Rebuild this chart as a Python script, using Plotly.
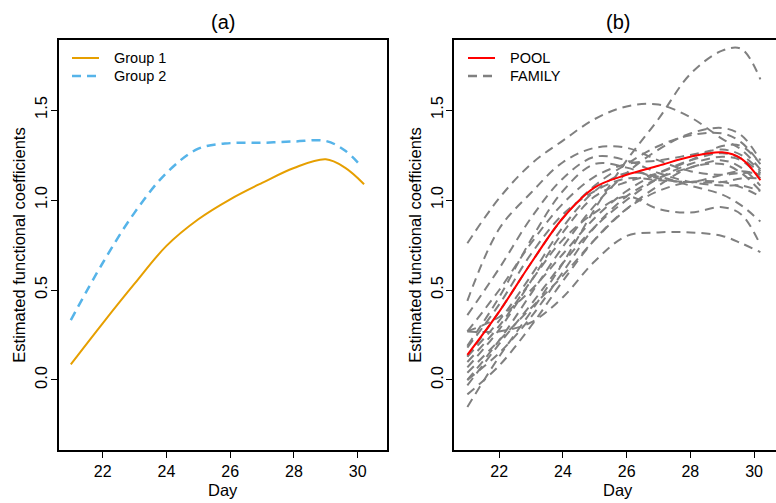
import plotly.graph_objects as go

# ---- panel (a): group-wise estimated coefficient functions ----
day_a = [21, 22, 23, 24, 25, 26, 27, 28, 29, 29.6, 30.2]
group1 = [0.087, 0.315, 0.535, 0.745, 0.893, 1.004, 1.095, 1.178, 1.226, 1.18, 1.088]
day_a2 = [21, 22, 23, 24, 25, 26, 27, 28, 29, 29.6, 30.1]
group2 = [0.333, 0.65, 0.93, 1.15, 1.285, 1.316, 1.318, 1.325, 1.328, 1.275, 1.19]

# ---- panel (b): pooled fit and family-specific fits ----
day_b = [21, 22, 23, 24, 25, 26, 27, 28, 29, 29.6, 30.2]
pool = [0.14, 0.38, 0.65, 0.90, 1.07, 1.14, 1.19, 1.24, 1.265, 1.23, 1.11]
families = [
    [-0.15, 0.13, 0.38, 0.65, 0.95, 1.22, 1.45, 1.70, 1.83, 1.84, 1.67],
    [0.76, 1.01, 1.20, 1.33, 1.45, 1.52, 1.53, 1.46, 1.34, 1.28, 1.17],
    [0.44, 0.84, 1.04, 1.21, 1.29, 1.29, 1.22, 1.16, 1.14, 1.15, 1.15],
    [0.36, 0.62, 0.90, 1.12, 1.24, 1.22, 1.15, 1.10, 1.08, 1.08, 1.05],
    [0.27, 0.27, 0.32, 0.46, 0.66, 0.80, 0.82, 0.82, 0.80, 0.76, 0.71],
    [0.10, 0.30, 0.55, 0.78, 0.93, 1.02, 0.95, 0.93, 0.96, 0.92, 0.75],
    [0.18, 0.42, 0.70, 0.92, 1.05, 1.12, 1.11, 1.10, 1.10, 1.12, 1.12],
    [0.00, 0.22, 0.48, 0.74, 0.97, 1.15, 1.28, 1.37, 1.40, 1.36, 1.22],
    [0.13, 0.38, 0.65, 0.90, 1.08, 1.20, 1.30, 1.36, 1.37, 1.32, 1.20],
    [0.27, 0.50, 0.76, 0.98, 1.13, 1.20, 1.22, 1.25, 1.28, 1.25, 1.16],
    [0.07, 0.28, 0.55, 0.82, 1.02, 1.10, 1.15, 1.22, 1.30, 1.30, 1.20],
    [-0.03, 0.20, 0.42, 0.65, 0.85, 1.00, 1.12, 1.20, 1.24, 1.22, 1.12],
    [-0.08, 0.08, 0.30, 0.55, 0.78, 0.95, 1.05, 1.10, 1.10, 1.07, 1.02],
    [0.19, 0.46, 0.78, 1.05, 1.20, 1.18, 1.12, 1.10, 1.14, 1.16, 1.14],
    [0.04, 0.22, 0.40, 0.58, 0.78, 0.95, 1.08, 1.18, 1.20, 1.15, 1.05],
    [0.13, 0.33, 0.58, 0.85, 1.05, 1.15, 1.13, 1.08, 1.03, 0.97, 0.88],
    [0.27, 0.35, 0.50, 0.70, 0.90, 1.05, 1.15, 1.22, 1.26, 1.23, 1.15],
    [0.00, 0.15, 0.35, 0.60, 0.85, 1.02, 1.12, 1.18, 1.22, 1.18, 1.08],
]

x_ticks = [22, 24, 26, 28, 30]
y_ticks = [0.0, 0.5, 1.0, 1.5]

W, H = 776, 503
FONT = "Liberation Sans, Arial, Helvetica, sans-serif"
DASH = "9px,6px"
ORANGE, BLUE, RED, GREY = "#E69F00", "#56B4E9", "#FF0000", "#808080"

fig = go.Figure()

fig.add_trace(go.Scatter(x=day_a, y=group1, mode="lines", name="Group 1",
                         line=dict(color=ORANGE, width=2, shape="spline"),
                         xaxis="x", yaxis="y", showlegend=False))
fig.add_trace(go.Scatter(x=day_a2, y=group2, mode="lines", name="Group 2",
                         line=dict(color=BLUE, width=2.5, dash=DASH, shape="spline"),
                         xaxis="x", yaxis="y", showlegend=False))

for fam in families:
    fig.add_trace(go.Scatter(x=day_b, y=fam, mode="lines", name="FAMILY",
                             line=dict(color=GREY, width=2, dash=DASH, shape="spline"),
                             xaxis="x2", yaxis="y2", showlegend=False))
fig.add_trace(go.Scatter(x=day_b, y=pool, mode="lines", name="POOL",
                         line=dict(color=RED, width=2, shape="spline"),
                         xaxis="x2", yaxis="y2", showlegend=False))

# plot regions in pixels
ax_left, ax_right = 58.7, 386.7
bx_left = 454.3
top, bottom = 40, 450
ydom = [1 - bottom / H, 1 - top / H]

common_x = dict(tickvals=x_ticks, ticks="outside", ticklen=6, tickwidth=1,
                tickcolor="black", showline=True, linecolor="black", linewidth=2,
                showgrid=False, zeroline=False, automargin=False,
                tickfont=dict(size=16, color="black"))
common_y = dict(tickvals=y_ticks, tickformat=".1f", ticks="outside", ticklen=6,
                tickwidth=1, tickcolor="black", showline=True, linecolor="black",
                linewidth=2, showgrid=False, zeroline=False, automargin=False,
                tickangle=-90, range=[-0.389, 1.889], ticklabelstandoff=-3,
                tickfont=dict(size=16.5, color="black"),
                title=dict(text="Estimated functional coefficients",
                           font=dict(size=16.5, color="black"), standoff=2))

# legend keys (line samples + labels) for each panel
legend_rows = [
    # (line start px, text px, row y px, label, colour, dash)
    (72, 112, 58, "Group 1", ORANGE, "solid"),
    (72, 112, 76, "Group 2", BLUE, DASH),
    (468, 508, 58, "POOL", RED, "solid"),
    (468, 508, 76, "FAMILY", GREY, DASH),
]
shapes, annotations = [], []
for x0, xt, yr, label, col, dash in legend_rows:
    shapes.append(dict(type="line", xref="paper", yref="paper",
                       x0=x0 / W, x1=(x0 + 27) / W, y0=1 - yr / H, y1=1 - yr / H,
                       line=dict(color=col, width=2.5 if dash != "solid" else 2, dash=dash)))
    annotations.append(dict(text=label, xref="paper", yref="paper", x=xt / W,
                            y=1 - yr / H, showarrow=False, xanchor="left",
                            yanchor="middle", font=dict(size=14.5, color="black")))

# panel titles and x-axis titles
annotations += [
    dict(text="(a)", xref="x domain", yref="paper", x=0.5, y=1 - 22 / H,
         showarrow=False, font=dict(size=20, color="black"),
         xanchor="center", yanchor="middle"),
    dict(text="(b)", xref="paper", yref="paper", x=618 / W, y=1 - 22 / H,
         showarrow=False, font=dict(size=20, color="black"),
         xanchor="center", yanchor="middle"),
    dict(text="Day", xref="x domain", yref="paper", x=0.5, y=1 - 490 / H,
         showarrow=False, font=dict(size=16.5, color="black"),
         xanchor="center", yanchor="middle"),
    dict(text="Day", xref="paper", yref="paper", x=618 / W, y=1 - 490 / H,
         showarrow=False, font=dict(size=16.5, color="black"),
         xanchor="center", yanchor="middle"),
]

fig.update_layout(
    width=W, height=H,
    margin=dict(l=0, r=0, t=0, b=0),
    paper_bgcolor="white", plot_bgcolor="white",
    font=dict(family=FONT, color="black"),
    showlegend=False,
    xaxis=dict(domain=[ax_left / W, ax_right / W], range=[20.62, 30.91],
               mirror=True, anchor="y", **common_x),
    yaxis=dict(domain=ydom, mirror=True, anchor="x", **common_y),
    xaxis2=dict(domain=[bx_left / W, 1.0], range=[20.59, 30.69],
                mirror=True, anchor="y2", **common_x),
    yaxis2=dict(domain=ydom, mirror=False, anchor="x2", **common_y),
    shapes=shapes,
    annotations=annotations,
)

fig.write_html("out.html")
